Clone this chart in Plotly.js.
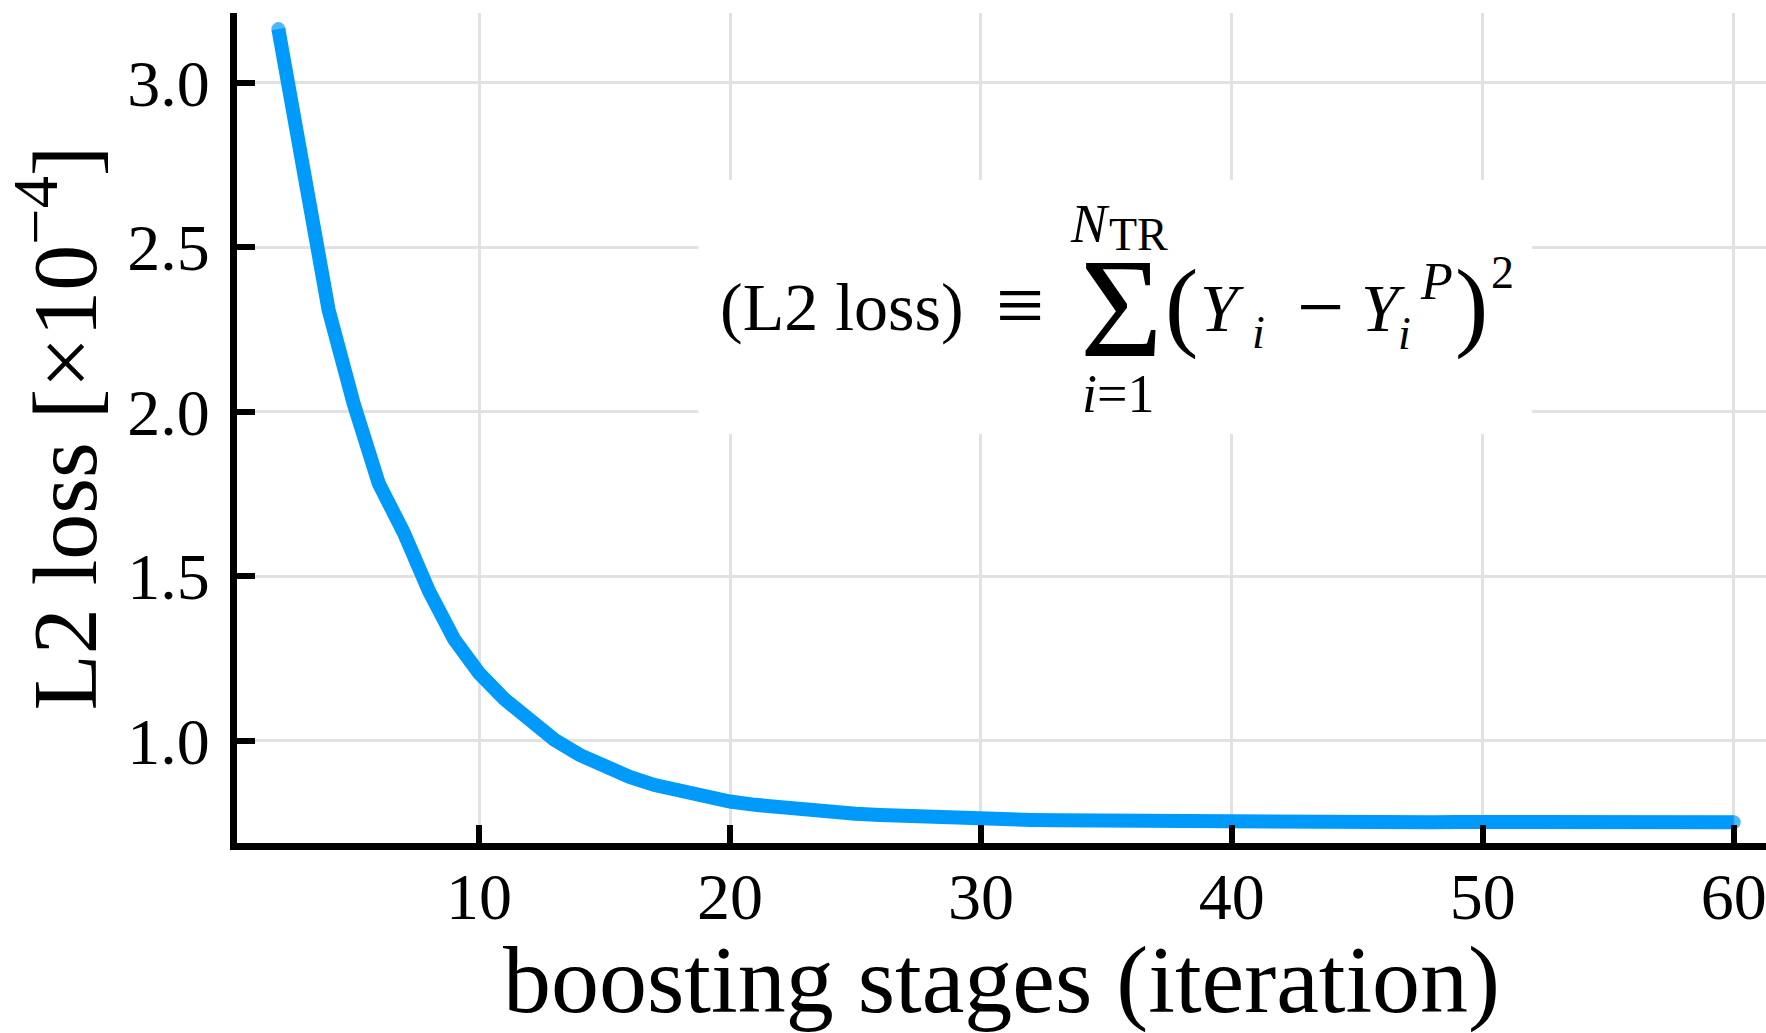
<!DOCTYPE html>
<html>
<head>
<meta charset="utf-8">
<script src="https://cdn.plot.ly/plotly-3.0.1.min.js"></script>
<style>html,body{margin:0;padding:0;background:#fff;}#chart{width:1766px;height:1033px;}</style>
</head>
<body>
<div id="chart"></div>
<script>
// ---- data ----
const stages = [2,3,4,5,6,7,8,9,10,11,12,13,14,15,16,17,18,19,20,21,22,23,24,25,26,27,28,29,30,
  31,32,33,34,35,36,37,38,39,40,41,42,43,44,45,46,47,48,49,50,51,52,53,54,55,56,57,58,59,60];
const l2Loss = [3.163,2.715,2.310,2.025,1.782,1.632,1.455,1.309,1.205,1.127,1.058,1.003,0.957,0.920,
  0.890,0.865,0.846,0.829,0.815,0.805,0.796,0.789,0.783,0.778,0.774,0.770,0.767,0.764,0.762,
  0.760,0.759,0.758,0.757,0.756,0.755,0.755,0.754,0.754,0.753,0.753,0.753,0.753,0.753,0.752,
  0.752,0.752,0.752,0.753,0.753,0.753,0.753,0.753,0.753,0.753,0.753,0.753,0.752,0.752,0.752];
const xTicks = [10,20,30,40,50,60];
const yTicks = [1.0,1.5,2.0,2.5,3.0];
const yTickText = ['1.0','1.5','2.0','2.5','3.0'];
const xTitle = 'boosting stages (iteration)';
const yTitle = 'L2 loss [×10<sup>−4</sup>]';

// ---- layout helpers ----
const W = 1766, H = 1033;
const mL = 236.5, mR = 0, mT = 13, mB = 190;
const FONT = 'Liberation Serif, Times New Roman, serif';
const BLUE = 'rgb(0,154,250)';
const px = v => (v - mL) / (W - mL - mR);
const py = v => (H - mB - v) / (H - mT - mB);

function ann(text, x, y, size, xanchor) {
  return {text: text, xref: 'paper', yref: 'paper', x: px(x), y: py(y),
    xanchor: xanchor || 'center', yanchor: 'middle', showarrow: false,
    font: {family: FONT, size: size, color: '#000'}, borderpad: 0};
}

const markerSizes = stages.map((s, i) => (i === 0 || i === stages.length - 1) ? 14 : 0);

const trace = {
  x: stages, y: l2Loss, type: 'scatter', mode: 'lines+markers',
  line: {color: BLUE, width: 14}, marker: {color: BLUE, size: markerSizes, line: {width: 0}},
  hoverinfo: 'x+y', showlegend: false
};

const axisCommon = {
  showline: true, linecolor: '#000', linewidth: 7, mirror: false,
  ticks: 'inside', ticklen: 18, tickwidth: 6, tickcolor: '#000',
  showgrid: true, gridcolor: '#e2e2e2', gridwidth: 3, zeroline: false,
  tickfont: {family: FONT, size: 66, color: '#000'}, automargin: false,
  ticklabeloverflow: 'allow'
};

const layout = {
  width: W, height: H,
  margin: {l: mL, r: mR, t: mT, b: mB, pad: 0},
  paper_bgcolor: '#fff', plot_bgcolor: '#fff',
  showlegend: false,
  xaxis: Object.assign({}, axisCommon, {
    range: [0.351, 61.287], tickmode: 'array', tickvals: xTicks,
    ticklabelstandoff: -10,
    title: {text: xTitle, font: {family: FONT, size: 96, color: '#000'}, standoff: 18}
  }),
  yaxis: Object.assign({}, axisCommon, {
    range: [0.689, 3.212], tickmode: 'array', tickvals: yTicks, ticktext: yTickText,
    ticklabelstandoff: 7,
    title: {text: yTitle, font: {family: FONT, size: 92, color: '#000'}, standoff: 14}
  }),
  shapes: [{type: 'rect', xref: 'paper', yref: 'paper', layer: 'above',
    x0: px(698), x1: px(1532), y0: py(434), y1: py(180),
    fillcolor: '#ffffff', opacity: 1, line: {width: 0}}],
  annotations: [
    ann('(L2 loss)', 719, 307, 68, 'left'),
    ann('≡', 1020, 305, 86),
    ann('Σ', 1121, 308, 142),
    ann('<i>N</i>', 1090, 224, 54),
    ann('TR', 1138, 234, 46),
    ann('<i>i</i>=1', 1118, 394, 54),
    ann('(', 1181, 304, 100),
    ann('<i>Y</i>', 1222, 308, 68),
    ann('<i>i</i>', 1258, 332, 46),
    ann('−', 1320, 306, 84),
    ann('<i>Y</i>', 1383, 308, 68),
    ann('<i>i</i>', 1404, 334, 46),
    ann('<i>P</i>', 1436, 281, 52),
    ann(')', 1471, 304, 100),
    ann('2', 1502, 272, 46)
  ]
};

Plotly.newPlot('chart', [trace], layout, {displayModeBar: false, staticPlot: true});
</script>
</body>
</html>
